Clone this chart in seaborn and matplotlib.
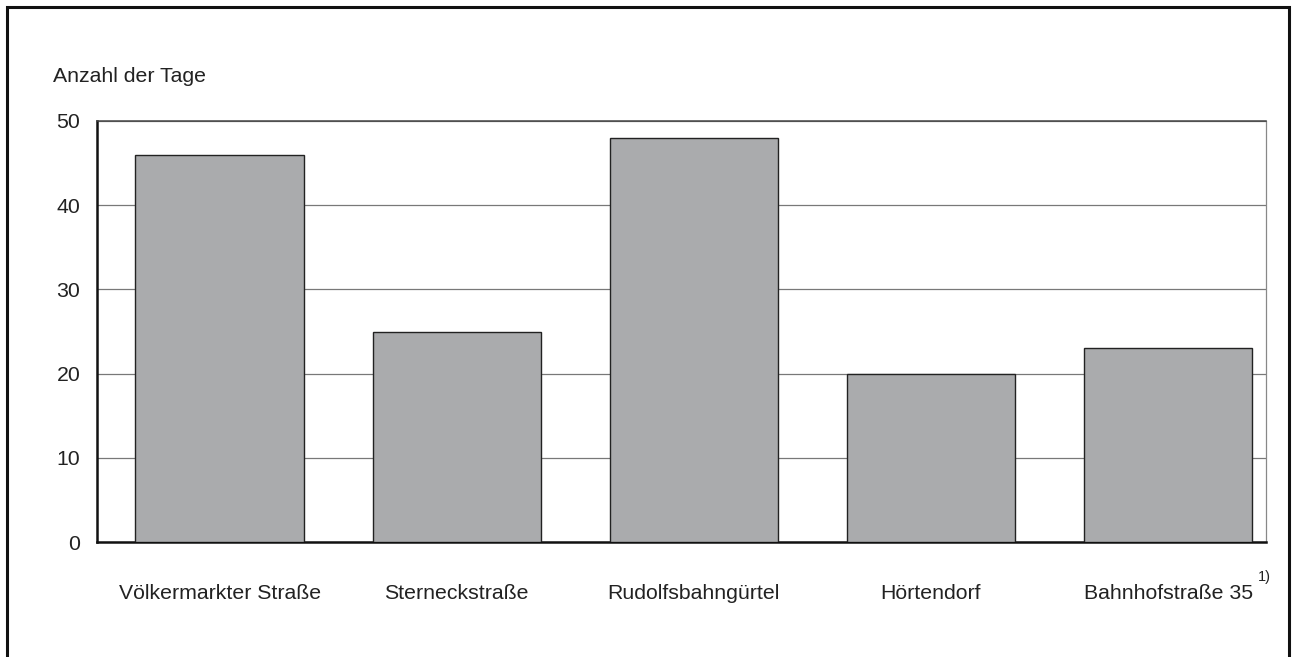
import numpy as np
import pandas as pd
import seaborn as sns
import matplotlib.pyplot as plt
from matplotlib.patches import Rectangle

stations = ['Völkermarkter Straße', 'Sterneckstraße', 'Rudolfsbahngürtel', 'Hörtendorf', 'Bahnhofstraße 35']
days = [46, 25, 48, 20, 23]
yticks = [0, 10, 20, 30, 40, 50]

sns.set_style('white')
plt.rcParams['font.family'] = ['Liberation Sans', 'DejaVu Sans']

df = pd.DataFrame({'station': stations, 'days': days})

fig = plt.figure(figsize=(12.97, 6.57), dpi=100)
ax = fig.add_axes([97/1297, 1 - 542/657, (1266 - 97)/1297, (542 - 121)/657])

sns.barplot(data=df, x='station', y='days', ax=ax, color='#aaabad', saturation=1,
            edgecolor='#222222', linewidth=1.0, width=0.71, zorder=3)

ax.set_ylim(0, 50)
ax.set_xlim(-0.517, 4.413)
ax.set_yticks(yticks)
ax.yaxis.grid(True, color='#787878', linewidth=0.9, zorder=0)
ax.set_axisbelow(True)
ax.set_xlabel('')
ax.set_ylabel('')
ax.tick_params(axis='y', length=0, pad=12, labelsize=15.3, labelcolor='#222222')
ax.tick_params(axis='x', length=0, pad=30, labelsize=15.3, labelcolor='#222222')

for s in ['left', 'bottom']:
    ax.spines[s].set_color('#111111')
    ax.spines[s].set_linewidth(1.8)
ax.spines['top'].set_color('#444444')
ax.spines['top'].set_linewidth(1.1)
ax.spines['right'].set_color('#888888')
ax.spines['right'].set_linewidth(0.9)

ax.text(53/1297, 1 - 76/657, 'Anzahl der Tage', transform=fig.transFigure,
        fontsize=15.3, color='#222222', ha='left', va='center')

ax.annotate('1)', xy=(4, 0), xycoords=('data', 'axes fraction'),
            xytext=(69, -25), textcoords='offset points', fontsize=10.5,
            color='#222222', ha='center', va='center')

# outer frame, open at the bottom
fig.patches.append(Rectangle((7/1297, -0.05), (1289 - 7)/1297, 1.05 - 7/657,
                             transform=fig.transFigure, fill=False,
                             edgecolor='#111111', linewidth=2.2))

plt.savefig('out.png', dpi=100)
